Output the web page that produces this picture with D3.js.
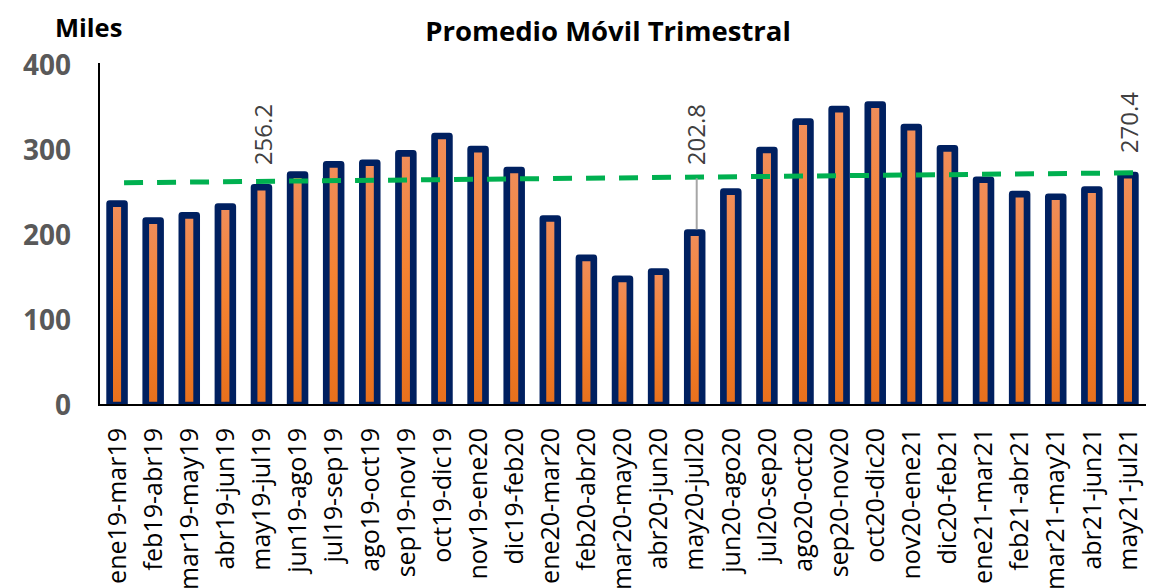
<!DOCTYPE html>
<html>
<head>
<meta charset="utf-8">
<script src="https://cdn.jsdelivr.net/npm/d3@7"></script>
<style>
  body { margin: 0; background: #fff; }
  svg { display: block; }
  text { font-family: "Open Sans", "Noto Sans", sans-serif; }
</style>
</head>
<body>
<div class="js-chart"></div>
<script>
(function() {
  'use strict';

  /* ------------------------------------------------------------ *\
      Data (thousands, 3-month moving average)
  \* ------------------------------------------------------------ */

  var categories = [
    'ene19-mar19', 'feb19-abr19', 'mar19-may19', 'abr19-jun19', 'may19-jul19',
    'jun19-ago19', 'jul19-sep19', 'ago19-oct19', 'sep19-nov19', 'oct19-dic19',
    'nov19-ene20', 'dic19-feb20', 'ene20-mar20', 'feb20-abr20', 'mar20-may20',
    'abr20-jun20', 'may20-jul20', 'jun20-ago20', 'jul20-sep20', 'ago20-oct20',
    'sep20-nov20', 'oct20-dic20', 'nov20-ene21', 'dic20-feb21', 'ene21-mar21',
    'feb21-abr21', 'mar21-may21', 'abr21-jun21', 'may21-jul21'
  ];

  var values = [
    237, 217, 223, 233.5, 256.2,
    271, 283, 285, 296, 316.5,
    301, 276.5, 219.4, 173, 148.5,
    157, 202.8, 251, 300, 333.5,
    348, 353.5, 327, 302, 265,
    248, 245, 253.5, 270.4
  ];

  var labelCategories = ['may19-jul19', 'may20-jul20', 'may21-jul21'];
  var labelValues = [256.2, 202.8, 270.4];

  // linear trend: value at first category and at the right end of the axis
  var trendValues = [261.4, 273.3];

  var yTicks = [0, 100, 200, 300, 400];

  /* ------------------------------------------------------------ *\
      Layout
  \* ------------------------------------------------------------ */

  var width = 1153;
  var height = 588;
  var plotLeft = 99;
  var plotRight = 1146;
  var plotTop = 65;
  var plotBottom = 405;

  var barColour = '#002060';
  var trendColour = '#00b050';

  var svg = d3.select('.js-chart')
    .append('svg')
    .attr('width', width)
    .attr('height', height)
    .attr('viewBox', '0 0 ' + width + ' ' + height);

  var x = d3.scaleBand()
    .domain(categories)
    .range([plotLeft, plotRight])
    .paddingInner(0)
    .paddingOuter(0);

  var y = d3.scaleLinear()
    .domain([0, 400])
    .range([plotBottom, plotTop]);

  var bw = x.bandwidth();
  var barWidth = bw * 0.41;
  var barStroke = 6.7;

  /* ------------------------------------------------------------ *\
      Defs: bar fill gradient and plot clip
  \* ------------------------------------------------------------ */

  var defs = svg.append('defs');

  var grad = defs.append('linearGradient')
    .attr('id', 'barGrad')
    .attr('x1', 0).attr('y1', 0)
    .attr('x2', 0).attr('y2', 1);
  grad.append('stop').attr('offset', '0%').attr('stop-color', '#f08d5a');
  grad.append('stop').attr('offset', '45%').attr('stop-color', '#f58332');
  grad.append('stop').attr('offset', '100%').attr('stop-color', '#e8701c');

  defs.append('clipPath')
    .attr('id', 'plotClip')
    .append('rect')
    .attr('x', 0)
    .attr('y', 0)
    .attr('width', width)
    .attr('height', plotBottom);

  /* ------------------------------------------------------------ *\
      Titles
  \* ------------------------------------------------------------ */

  svg.append('text')
    .attr('x', 608)
    .attr('y', 41)
    .attr('text-anchor', 'middle')
    .attr('font-size', 27.5)
    .attr('font-weight', 'bold')
    .attr('fill', '#000')
    .text('Promedio Móvil Trimestral');

  svg.append('text')
    .attr('x', 55)
    .attr('y', 37)
    .attr('font-size', 25.5)
    .attr('font-weight', 'bold')
    .attr('fill', '#000')
    .text('Miles');

  /* ------------------------------------------------------------ *\
      Y axis labels
  \* ------------------------------------------------------------ */

  svg.append('g')
    .selectAll('text')
    .data(yTicks)
    .join('text')
    .attr('x', 71)
    .attr('y', function(d) { return y(d); })
    .attr('dy', '0.35em')
    .attr('text-anchor', 'end')
    .attr('font-size', 28)
    .attr('font-weight', 'bold')
    .attr('fill', '#595959')
    .text(function(d) { return d; });

  /* ------------------------------------------------------------ *\
      Bars
  \* ------------------------------------------------------------ */

  svg.append('g')
    .attr('clip-path', 'url(#plotClip)')
    .selectAll('rect')
    .data(values)
    .join('rect')
    .attr('x', function(d, i) { return x(categories[i]) + (bw - barWidth) / 2; })
    .attr('y', function(d) { return y(d); })
    .attr('width', barWidth)
    .attr('height', function(d) { return y(0) - y(d); })
    .attr('fill', 'url(#barGrad)')
    .attr('stroke', barColour)
    .attr('stroke-width', barStroke)
    .attr('stroke-linejoin', 'round');

  /* ------------------------------------------------------------ *\
      Trend line
  \* ------------------------------------------------------------ */

  svg.append('line')
    .attr('x1', x(categories[0]) + bw / 2)
    .attr('y1', y(trendValues[0]))
    .attr('x2', x.range()[1])
    .attr('y2', y(trendValues[1]))
    .attr('stroke', trendColour)
    .attr('stroke-width', 5)
    .attr('stroke-dasharray', '19 14')
    .attr('stroke-dashoffset', 26);

  /* ------------------------------------------------------------ *\
      Axis lines
  \* ------------------------------------------------------------ */

  svg.append('line')
    .attr('x1', plotLeft)
    .attr('y1', plotTop - 2)
    .attr('x2', plotLeft)
    .attr('y2', plotBottom + 1)
    .attr('stroke', '#000')
    .attr('stroke-width', 2);

  svg.append('line')
    .attr('x1', plotLeft)
    .attr('y1', plotBottom)
    .attr('x2', plotRight)
    .attr('y2', plotBottom)
    .attr('stroke', '#000')
    .attr('stroke-width', 2);

  /* ------------------------------------------------------------ *\
      X axis labels (rotated)
  \* ------------------------------------------------------------ */

  svg.append('g')
    .selectAll('text')
    .data(categories)
    .join('text')
    .attr('transform', function(d) {
      return 'translate(' + (x(d) + bw / 2) + ',428) rotate(-90)';
    })
    .attr('dy', '0.35em')
    .attr('text-anchor', 'end')
    .attr('font-size', 25)
    .attr('fill', '#000')
    .text(function(d) { return d; });

  /* ------------------------------------------------------------ *\
      Data labels (one lifted with a leader line)
  \* ------------------------------------------------------------ */

  var labelGap = 22;
  var topLabelY = y(labelValues[0]) - labelGap;

  labelCategories.forEach(function(cat, i) {
    var cx = x(cat) + bw / 2;
    var barTop = y(labelValues[i]);
    var ly = Math.min(barTop - labelGap, topLabelY);

    if (ly < barTop - labelGap) {
      svg.append('line')
        .attr('x1', cx + 2)
        .attr('y1', ly + 13)
        .attr('x2', cx + 2)
        .attr('y2', barTop - barStroke / 2)
        .attr('stroke', '#a6a6a6')
        .attr('stroke-width', 2);
    }

    svg.append('text')
      .attr('transform', 'translate(' + (cx + 2) + ',' + ly + ') rotate(-90)')
      .attr('dy', '0.35em')
      .attr('text-anchor', 'start')
      .attr('font-size', 24)
      .attr('fill', '#404040')
      .text(labelValues[i].toFixed(1));
  });
})();
</script>
</body>
</html>
